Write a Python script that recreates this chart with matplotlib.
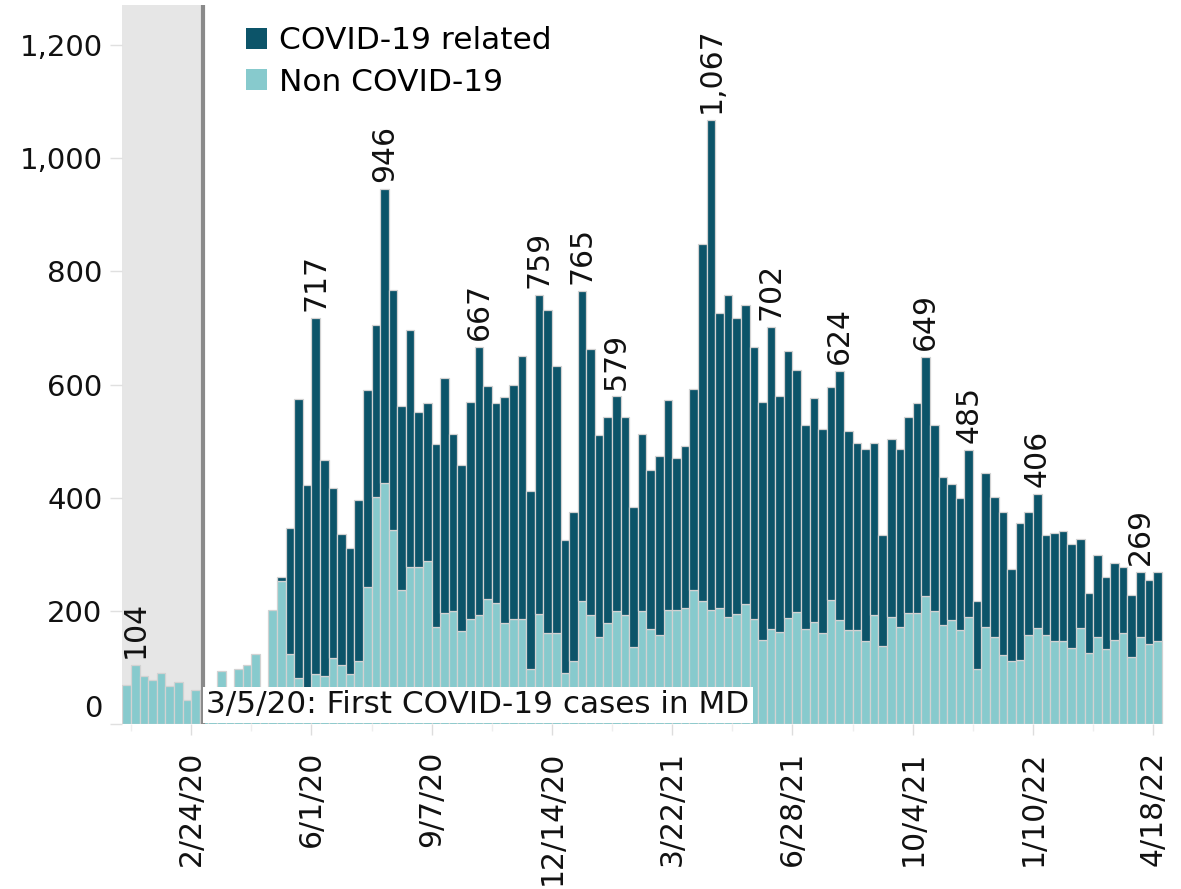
import matplotlib
matplotlib.use("Agg")
import matplotlib.pyplot as plt
import matplotlib.transforms as mtransforms
from matplotlib.patches import Patch
import numpy as np
import pandas as pd

# weekly counts, first week starts 12/30/19
weeks = pd.date_range("2019-12-30", periods=121, freq="7D")

total = [69, 104, 85, 78, 91, 67, 74, 42, 60, 55,
         50, 94, 60, 97, 105, 123, 62, 202, 259, 346,
         575, 423, 717, 466, 417, 336, 311, 396, 590, 706,
         946, 767, 562, 696, 552, 568, 495, 611, 512, 457,
         570, 667, 597, 567, 578, 600, 650, 411, 759, 732,
         632, 325, 375, 765, 663, 510, 543, 579, 543, 384,
         512, 449, 474, 573, 470, 491, 593, 849, 1067, 727,
         758, 717, 740, 667, 569, 702, 579, 659, 625, 529,
         576, 521, 596, 624, 518, 496, 486, 497, 334, 504,
         486, 543, 567, 649, 529, 436, 425, 399, 485, 218,
         444, 402, 374, 274, 356, 374, 406, 334, 337, 341,
         319, 327, 232, 299, 259, 285, 278, 228, 269, 255,
         268]

non_covid = [69, 104, 85, 78, 91, 67, 74, 42, 60, 55,
             50, 94, 60, 97, 105, 123, 62, 202, 253, 123,
             82, 60, 89, 84, 117, 104, 89, 112, 243, 401,
             426, 343, 237, 278, 278, 289, 172, 196, 199, 164,
             185, 193, 221, 214, 179, 185, 185, 98, 195, 161,
             161, 90, 111, 217, 193, 153, 179, 199, 193, 136,
             200, 168, 157, 202, 202, 205, 237, 217, 202, 205,
             190, 194, 213, 185, 149, 168, 163, 188, 198, 168,
             181, 161, 220, 183, 166, 166, 147, 193, 137, 190,
             172, 196, 196, 227, 200, 175, 183, 166, 190, 97,
             172, 154, 122, 111, 114, 157, 169, 157, 147, 147,
             135, 169, 126, 154, 132, 149, 160, 119, 154, 141,
             147]

labelled_weeks = [1, 22, 30, 41, 48, 53, 57, 68, 75, 83, 93, 98, 106, 118]
tick_weeks = [8, 22, 36, 50, 64, 78, 92, 106, 120]
tick_labels = ["2/24/20", "6/1/20", "9/7/20", "12/14/20", "3/22/21",
               "6/28/21", "10/4/21", "1/10/22", "4/18/22"]

DARK = "#0c5469"
LIGHT = "#87cacd"
EDGE = "#d2d2d2"
FS = 21.5

total = np.array(total)
non_covid = np.array(non_covid)
covid = total - non_covid
x = np.arange(len(weeks))

fig = plt.figure(figsize=(11.81, 8.89), dpi=100)
ax = fig.add_axes([122 / 1181, 165 / 889, 1042 / 1181, 719 / 889])
ax.set_xlim(-0.05, 121.25)
ax.set_ylim(0, 1271)

# first case in Maryland: 3/5/20
first_case = (pd.Timestamp("2020-03-05") - weeks[0]).days / 7
ax.axvspan(-0.05, first_case, color="#e6e6e6", lw=0, zorder=0)
ax.axvline(first_case, color="#8a8a8a", lw=3, zorder=3)

ax.bar(x, non_covid, width=1, align="edge", color=LIGHT,
       edgecolor=EDGE, linewidth=0.9, zorder=2)
m = covid > 0
ax.bar(x[m], covid[m], bottom=non_covid[m], width=1, align="edge",
       color=DARK, edgecolor=EDGE, linewidth=0.9, zorder=2)

for i in labelled_weeks:
    ax.annotate(f"{total[i]:,}", (i + 0.5, total[i]), xytext=(0, 5),
                textcoords="offset points", rotation=90, ha="center",
                va="bottom", fontsize=FS, color="#111111", zorder=5)

ax.text(first_case + 0.35, 34, "3/5/20: First COVID-19 cases in MD",
        fontsize=22.4, va="center", ha="left", color="#111111", zorder=6,
        bbox=dict(facecolor="white", edgecolor="none", pad=2.5))

for s in ax.spines.values():
    s.set_visible(False)

ax.set_xticks(tick_weeks)
ax.set_xticklabels(tick_labels, rotation=90, fontsize=FS, va="top")
ax.set_xticks([t - 7 for t in tick_weeks], minor=True)
ax.tick_params(axis="x", which="major", length=8, width=1, color="#dddddd",
               pad=11, labelcolor="#111111")
ax.tick_params(axis="x", which="minor", length=5, width=1, color="#eeeeee")

ax.set_yticks(range(0, 1201, 200))
ax.set_yticklabels([f"{v:,}" for v in range(0, 1201, 200)], fontsize=FS - 0.5)
ax.tick_params(axis="y", length=9, width=1, color="#e0e0e0", pad=5,
               labelcolor="#111111")
zero_lab = ax.get_yticklabels()[0]
zero_lab.set_transform(zero_lab.get_transform() +
                       mtransforms.ScaledTranslation(0, 18 / 100, fig.dpi_scale_trans))

handles = [Patch(facecolor=DARK, edgecolor="none", label="COVID-19 related"),
           Patch(facecolor=LIGHT, edgecolor="none", label="Non COVID-19")]
fig.legend(handles=handles, loc="upper left",
           bbox_to_anchor=(240 / 1181, 1 - 20 / 889), frameon=False,
           fontsize=22.5, handlelength=0.65, handleheight=0.65,
           handletextpad=0.4, labelspacing=0.4, borderaxespad=0,
           borderpad=0.2)

fig.savefig("out.png", dpi=100)
